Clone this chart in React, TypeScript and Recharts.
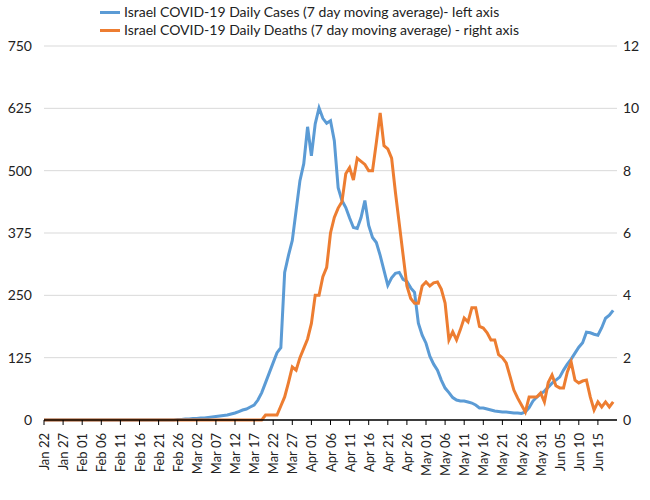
import React from "react";
import { ComposedChart, Line, XAxis, YAxis, CartesianGrid } from "recharts";

const startDate = "2020-01-22";
const casesValues = [
  ...Array(35).fill(0),
  1, 1, 2, 2, 3, 3, 4, 4, 5, 6, 7, 8, 9, 10, 12, 14, 17, 20, 22, 26, 30, 40, 55, 75, 95, 115, 135, 145,
  296, 330, 360, 420, 480, 514, 588, 530, 594, 626, 605, 595, 600, 560, 466, 440, 426, 405, 386, 384,
  406, 440, 390, 366, 356, 330, 300, 270, 285, 294, 296, 282, 278, 265, 256, 194, 170, 154, 128, 112,
  100, 80, 64, 55, 45, 40, 38, 38, 36, 34, 30, 24, 24, 22, 20, 18, 17, 16, 16, 15, 14, 14, 13, 16, 25,
  38, 46, 52, 58, 66, 74, 80, 86, 100, 112, 122, 134, 146, 155, 176, 175, 172, 170, 185, 204, 210, 220,
];
const deathsValues = [
  ...Array(58).fill(0),
  0.16, 0.16, 0.16, 0.16, 0.45, 0.74, 1.2, 1.7, 1.6, 2.0, 2.3, 2.6, 3.1, 4.0, 4.0, 4.6, 4.9, 6.0, 6.5,
  6.8, 7.0, 7.9, 8.1, 7.7, 8.4, 8.3, 8.2, 8.0, 8.0, 8.9, 9.85, 8.8, 8.7, 8.4, 7.3, 6.3, 5.3, 4.3, 3.9,
  3.75, 3.75, 4.3, 4.43, 4.3, 4.4, 4.43, 4.2, 3.75, 2.57, 2.83, 2.57, 2.9, 3.27, 3.15, 3.6, 3.6, 3.0,
  2.95, 2.8, 2.57, 2.57, 2.1, 2.0, 1.83, 1.4, 0.96, 0.7, 0.48, 0.26, 0.74, 0.74, 0.74, 0.87, 0.58, 1.2,
  1.44, 1.1, 1.03, 1.03, 1.54, 1.86, 1.28, 1.19, 1.25, 1.28, 0.74, 0.32, 0.58, 0.42, 0.58, 0.42, 0.58,
];
const leftTicks = [0, 125, 250, 375, 500, 625, 750];
const rightTicks = [0, 2, 4, 6, 8, 10, 12];
const xTicks = Array.from({ length: 30 }, (_, i) => i * 5);
const seriesNames = [
  "Israel COVID-19 Daily Cases (7 day moving average)- left axis",
  "Israel COVID-19 Daily Deaths (7 day moving average) - right axis",
];
const MONTHS = ["Jan", "Feb", "Mar", "Apr", "May", "Jun", "Jul"];

const dateLabel = (i: number) => {
  const d = new Date(startDate + "T00:00:00Z");
  d.setUTCDate(d.getUTCDate() + i);
  return `${MONTHS[d.getUTCMonth()]} ${String(d.getUTCDate()).padStart(2, "0")}`;
};

const data = casesValues.map((c, i) => ({ i, cases: c, deaths: deathsValues[i] }));

const BLUE = "#5B9BD5";
const ORANGE = "#ED7D31";
const FONT = "Lato, 'Noto Sans', sans-serif";

const XTick = (props: any) => {
  const { x, y, payload } = props;
  return (
    <text x={x} y={y + 6} transform={`rotate(-90, ${x}, ${y + 6})`} textAnchor="end" dominantBaseline="central" fontSize={13} fill="#222" fontFamily={FONT}>
      {dateLabel(payload.value)}
    </text>
  );
};

export default function App() {
  return (
    <div style={{ position: "absolute", left: 0, top: 0, width: 650, height: 500, background: "#fff", fontFamily: FONT }}>
      <div style={{ position: "absolute", left: 100, top: 3, fontSize: 14, color: "#222", lineHeight: "18px" }}>
        {seriesNames.map((n, k) => (
          <div key={n} style={{ display: "flex", alignItems: "center" }}>
            <span style={{ display: "inline-block", width: 20, height: 3, background: k === 0 ? BLUE : ORANGE, marginRight: 4 }} />
            {n}
          </div>
        ))}
      </div>
      <ComposedChart width={650} height={500} data={data} margin={{ top: 46, right: 0, bottom: 10, left: 0 }}>
        <CartesianGrid vertical={false} stroke="#d9d9d9" yAxisId="left" />
        <XAxis dataKey="i" type="number" domain={[0, 150]} ticks={xTicks} interval={0} height={70} tick={<XTick />} tickSize={5} axisLine={{ stroke: "#000", strokeWidth: 1.5 }} tickLine={{ stroke: "#000" }} />
        <YAxis yAxisId="left" domain={[0, 750]} ticks={leftTicks} width={44} tickSize={0} tickMargin={12} axisLine={false} tick={{ fontSize: 14, fill: "#222", fontFamily: FONT }} />
        <YAxis yAxisId="right" orientation="right" domain={[0, 12]} ticks={rightTicks} width={33} tickSize={0} tickMargin={6} axisLine={false} tick={{ fontSize: 14, fill: "#222", fontFamily: FONT, textAnchor: "start" }} />
        <Line yAxisId="left" dataKey="cases" stroke={BLUE} strokeWidth={3} dot={false} isAnimationActive={false} />
        <Line yAxisId="right" dataKey="deaths" stroke={ORANGE} strokeWidth={3} dot={false} isAnimationActive={false} />
      </ComposedChart>
    </div>
  );
}
